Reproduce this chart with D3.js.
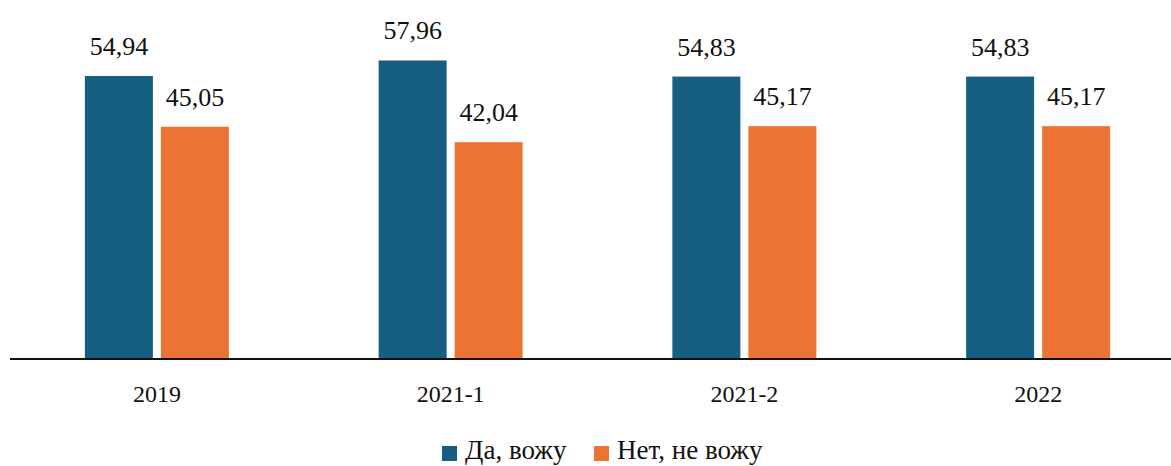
<!DOCTYPE html>
<html>
<head>
<meta charset="utf-8">
<script src="https://cdn.jsdelivr.net/npm/d3@7"></script>
</head>
<body style="margin:0">
<script>
const categories = ["2019", "2021-1", "2021-2", "2022"];
const seriesNames = ["Да, вожу", "Нет, не вожу"];
const yesValues = [54.94, 57.96, 54.83, 54.83];
const noValues = [45.05, 42.04, 45.17, 45.17];
const colors = ["#175f80", "#eb7333"];

const width = 1171;
const height = 466;
const baseY = 358;
const serif = "'Liberation Serif'";

let svg = d3.select("body")
  .append("svg")
  .attr("width", width)
  .attr("height", height)

let x = d3.scaleBand()
  .domain(categories)
  .range([10, 1185])

let sub = d3.scaleBand()
  .domain([0, 1])
  .range([-72, 72])
  .paddingInner(8 / 76)

let y = d3.scaleLinear()
  .domain([0, 60])
  .range([baseY, 50])

const fmt = v => v.toFixed(2).replace(".", ",")

let rows = categories.map((c, i) => [
  { cat: c, s: 0, v: yesValues[i] },
  { cat: c, s: 1, v: noValues[i] }
]).flat()

svg.selectAll("rect.bar")
  .data(rows)
  .enter()
  .append("rect")
  .attr("class", "bar")
  .attr("x", d => x(d.cat) + x.bandwidth() / 2 + sub(d.s))
  .attr("y", d => y(d.v))
  .attr("width", sub.bandwidth())
  .attr("height", d => baseY - y(d.v))
  .attr("fill", d => colors[d.s])

svg.selectAll("text.label")
  .data(rows)
  .enter()
  .append("text")
  .attr("class", "label")
  .attr("x", d => x(d.cat) + x.bandwidth() / 2 + sub(d.s) + sub.bandwidth() / 2)
  .attr("y", d => y(d.v) - 21)
  .attr("text-anchor", "middle")
  .attr("fill", "#111")
  .style("font-family", serif)
  .style("font-size", "26px")
  .text(d => fmt(d.v))

// x axis
let xAxis = d3.axisBottom(x).tickSize(0).tickPadding(27)
svg.append("g")
  .attr("transform", `translate(0,${baseY})`)
  .call(xAxis)
  .call(g => g.select(".domain").remove())
  .call(g => g.selectAll("text")
    .attr("fill", "#111")
    .style("font-family", serif)
    .style("font-size", "24px"))

svg.append("line")
  .attr("x1", 10).attr("x2", width)
  .attr("y1", baseY + 1).attr("y2", baseY + 1)
  .attr("stroke", "#111")
  .attr("stroke-width", 2.2)

// legend
let legendX = [442, 594]
seriesNames.forEach((n, i) => {
  svg.append("rect")
    .attr("x", legendX[i]).attr("y", 446)
    .attr("width", 15).attr("height", 15)
    .attr("fill", colors[i])
  svg.append("text")
    .attr("x", legendX[i] + 23).attr("y", 459)
    .attr("fill", "#111")
    .style("font-family", serif)
    .style("font-size", "27px")
    .text(n)
})
</script>
</body>
</html>
